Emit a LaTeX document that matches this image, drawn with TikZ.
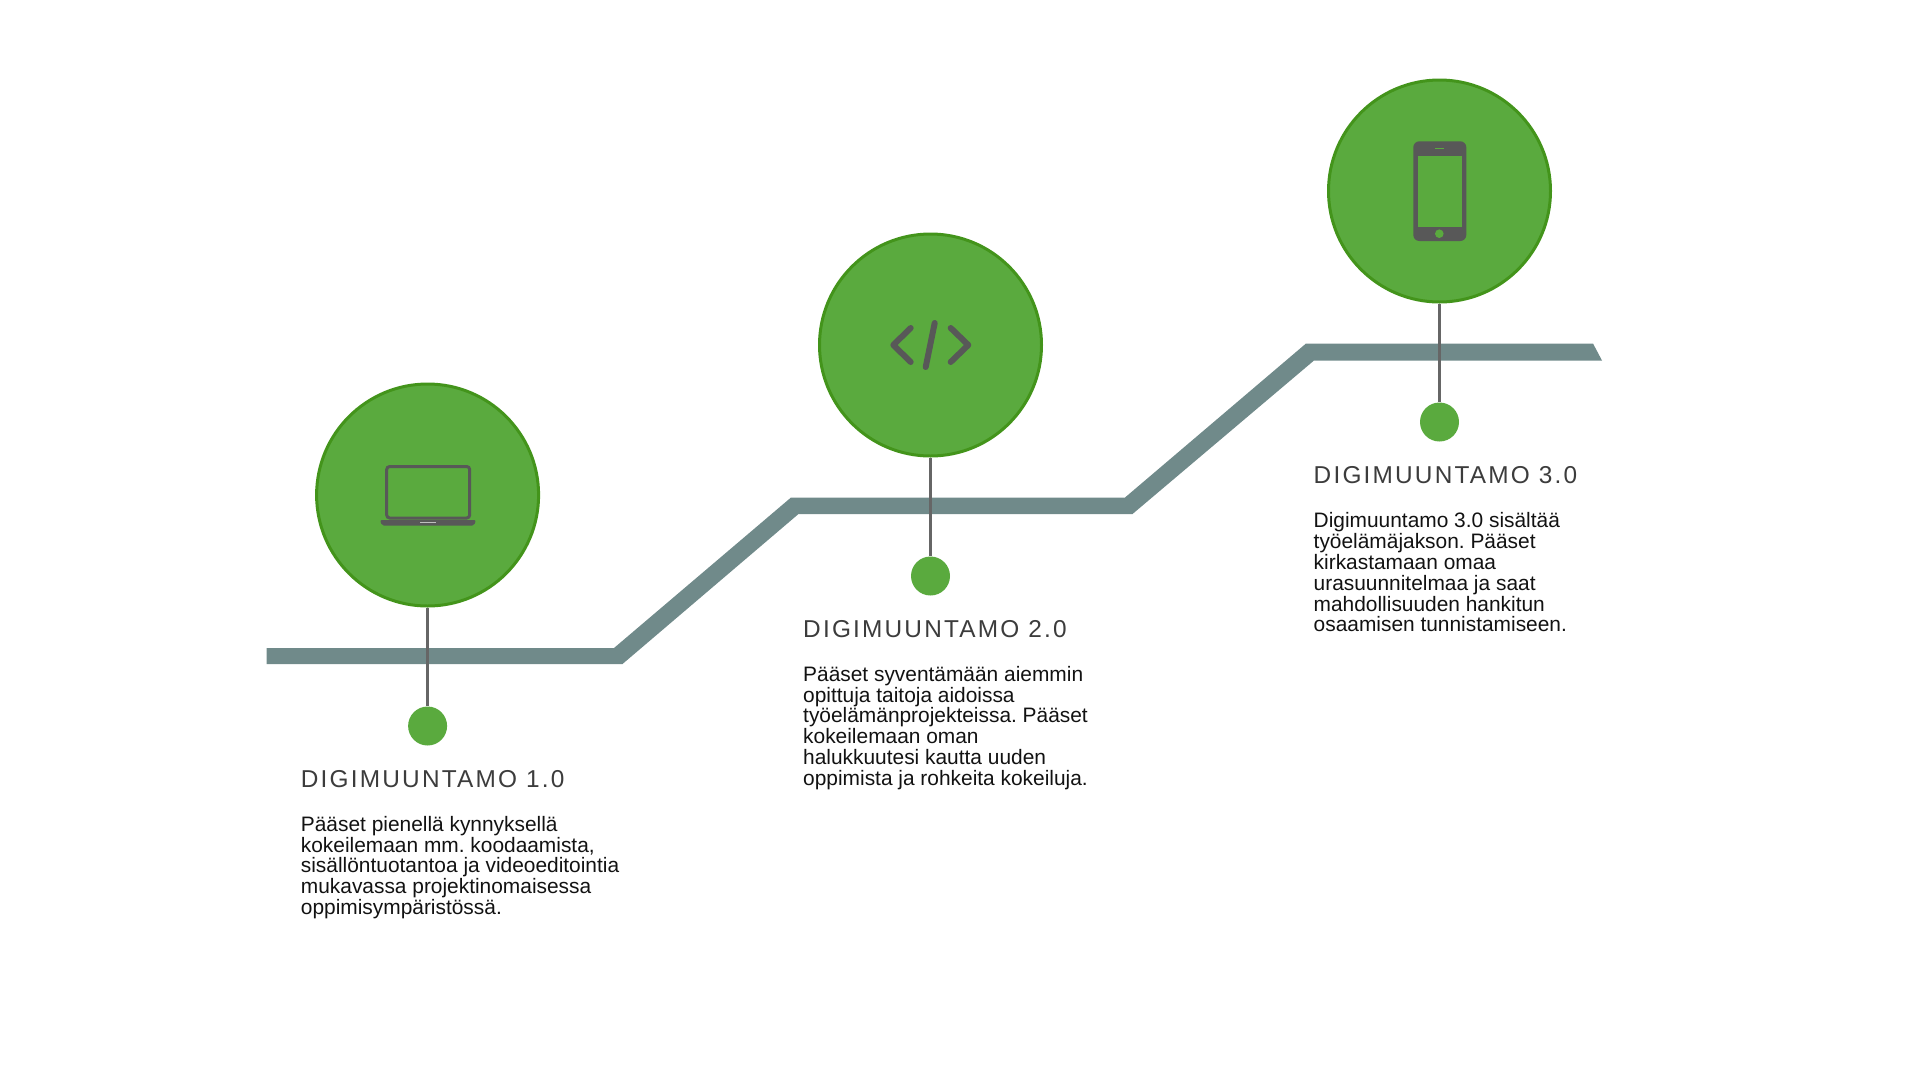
\documentclass[tikz,border=0pt]{standalone}
\usepackage{fontspec}
\setmainfont{Liberation Sans}
\newfontfamily\headfont[LetterSpace=9]{Liberation Sans}
\usepackage{tikz}
\usetikzlibrary{positioning}
\definecolor{BubbleGreen}{RGB}{90, 170, 62}
\definecolor{BubbleEdge}{RGB}{67, 148, 27}
\definecolor{BandGray}{RGB}{112, 138, 138}
\definecolor{IconGray}{RGB}{88, 88, 88}
\definecolor{StemGray}{RGB}{102, 102, 102}
\definecolor{HeadGray}{RGB}{60, 60, 60}
\tikzset{
  bubble/.style={circle, fill=BubbleGreen, draw=BubbleEdge, line width=3pt, minimum size=222pt, inner sep=0pt},
  pin/.style={circle, fill=BubbleGreen, minimum size=39pt, inner sep=0pt},
  stem/.style={StemGray, line width=3pt},
  heading/.style={anchor=base west, inner sep=0pt, font=\fontsize{24.4pt}{24.4pt}\headfont, text=HeadGray},
  bodytext/.style={anchor=north west, inner sep=0pt, align=left, font=\fontsize{20.9pt}{20.8pt}\selectfont\frenchspacing, text=black!93}
}
\begin{document}
\begin{tikzpicture}[x=1pt,y=-1pt]
    \useasboundingbox (0,0) rectangle (1920,1080);

    % Band
    \fill[BandGray] (266.5,648) -- (614,648) -- (791,497.5) -- (1125,497.5) -- (1306,343.5)
      -- (1593,343.5) -- (1602,360.5) -- (1314,360.5) -- (1132.5,514) -- (798.5,514)
      -- (622.5,664) -- (266.5,664) -- cycle;

    % Bubbles and pins
    \foreach \n/\x/\y/\p in {one/427.6/495/726, two/930.5/345/576, three/1439.5/191/422} {
      \node[bubble] (bubble\n) at (\x,\y) {};
      \node[pin] (pin\n) at (\x,\p) {};
      \draw[stem] (bubble\n) -- (pin\n);
    }

    % Laptop icon
    \draw[IconGray, line width=3pt, rounded corners=3pt] (386.7,466.5) rectangle (469.7,518);
    \fill[IconGray, rounded corners=2pt] (380,520) -- (476,520) -- (474,525.7) -- (382,525.7) -- cycle;
    \fill[black!25] (420,521.8) rectangle (436,523);

    % Code icon
    \draw[IconGray, line width=6pt, line cap=round, line join=round]
      (910.7,328) -- (893.3,345) -- (910.7,362)
      (950.7,328) -- (968.3,345) -- (950.7,362)
      (934.7,323) -- (925.7,367);

    % Phone icon
    \fill[IconGray, rounded corners=6pt] (1413.3,141.3) rectangle (1466.3,241);
    \fill[BubbleGreen] (1417.7,155.7) rectangle (1462,226.7);
    \fill[BubbleGreen] (1439.3,233.7) circle (4.3pt);
    \fill[BubbleGreen] (1435,147.8) rectangle (1444.3,148.8);

    % Headings
    \node[heading] (headone) at (300.7,787.5) {DIGIMUUNTAMO 1.0};
    \node[heading] (headtwo) at (803,637.7) {DIGIMUUNTAMO 2.0};
    \node[heading] (headthree) at (1313.5,483.4) {DIGIMUUNTAMO 3.0};

    % Body texts
    \node[bodytext] (textone) at (300.7,816) {Pääset pienellä kynnyksellä\\kokeilemaan mm. koodaamista,\\sisällöntuotantoa ja videoeditointia\\mukavassa projektinomaisessa\\oppimisympäristössä.};
    \node[bodytext] (texttwo) at (803,666) {Pääset syventämään aiemmin\\opittuja taitoja aidoissa\\työelämänprojekteissa. Pääset\\kokeilemaan oman\\halukkuutesi kautta uuden\\oppimista ja rohkeita kokeiluja.};
    \node[bodytext] (textthree) at (1313.5,512.5) {Digimuuntamo 3.0 sisältää\\työelämäjakson. Pääset\\kirkastamaan omaa\\urasuunnitelmaa ja saat\\mahdollisuuden hankitun\\osaamisen tunnistamiseen.};
\end{tikzpicture}
\end{document}
